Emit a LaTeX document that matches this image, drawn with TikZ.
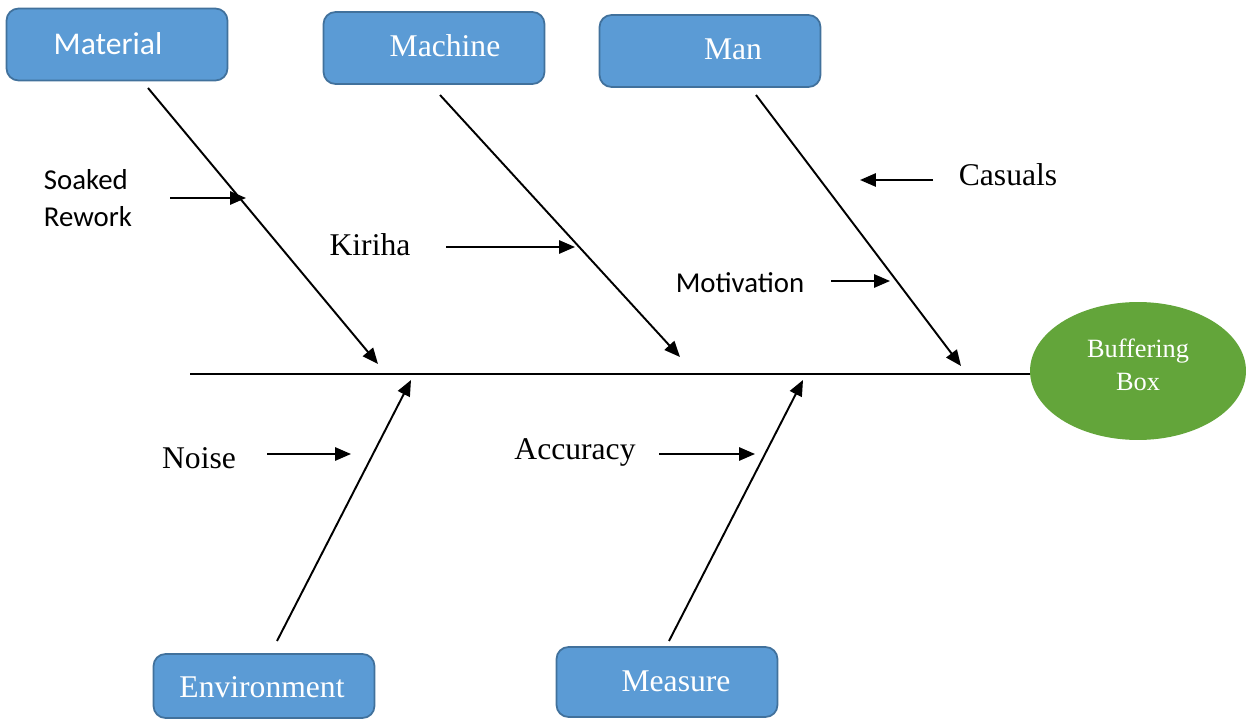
\documentclass[tikz,border=0pt]{standalone}
\usepackage{fontspec}
\setmainfont{Liberation Serif}
\newfontfamily\calibri{Carlito}
\usetikzlibrary{arrows.meta,shapes.geometric,positioning}
\definecolor{boxblue}{HTML}{5B9BD5}
\definecolor{boxedge}{HTML}{41719C}
\definecolor{effectgreen}{HTML}{63A53A}
\tikzset{
>={Triangle[length=9pt,width=7.5pt]},
  causebox/.style={
    rectangle,
    rounded corners=0.24cm,
    fill=boxblue,
    draw=boxedge, line width=1pt,
    minimum width=4.42cm,
    minimum height=1.44cm},
  boxtext/.style={text=white, font=\fontsize{18}{20}\selectfont},
  effect/.style={
    ellipse,
    fill=effectgreen,
    inner sep=0pt,
    minimum width=4.32cm,
    minimum height=2.76cm},
  effecttext/.style={text=white, align=center,
    font=\fontsize{15}{18.7}\selectfont},
  cause/.style={font=\fontsize{18}{20}\selectfont},
  causesans/.style={font=\calibri\fontsize{16.4}{21.5}\selectfont, align=left},
}

\begin{document}
\begin{tikzpicture}[
    x=0.02cm, y=-0.02cm,
    spine/.style={line width=1.5pt},
    bone/.style={line width=1.1pt, ->},
    pointer/.style={line width=1.1pt, ->}
    ]
    \useasboundingbox (0,0) rectangle (1250,719);

    % category boxes
    \node[causebox] (material) at (117,44.5) {};
    \node[boxtext, font=\calibri\fontsize{18}{20}\selectfont] (materialtxt)
         at (108,44) {Material};
    \node[causebox] (machine) at (434,48) {};
    \node[boxtext] (machinetxt) at (445,46) {Machine};
    \node[causebox] (man) at (710,51) {};
    \node[boxtext] (mantxt) at (733,49) {Man};
    \node[causebox, minimum height=1.28cm] (environment) at (264,686) {};
    \node[boxtext] (environmenttxt) at (262,687) {Environment};
    \node[causebox, minimum height=1.40cm] (measure) at (667,682) {};
    \node[boxtext] (measuretxt) at (676,681) {Measure};

    % effect
    \node[effect] (buffer) at (1138,371) {};
    \node[effecttext] (buffertxt) at (1138,365) {Buffering\\Box};

    % spine
    \coordinate (tail) at (190,374);
    \draw[spine] (tail) -- (tail -| buffer.west);

    % bones
    \coordinate (materialtop) at (148,88);
    \coordinate (materialtip) at (378,364);
    \coordinate (machinetop) at (440,95);
    \coordinate (machinetip) at (680,357);
    \coordinate (mantop) at (756,95);
    \coordinate (mantip) at (961,366);
    \coordinate (environmentfoot) at (277,641);
    \coordinate (environmenttip) at (411,380);
    \coordinate (measurefoot) at (669,641);
    \coordinate (measuretip) at (803,380);
    \draw[bone] (materialtop) -- (materialtip);
    \draw[bone] (machinetop) -- (machinetip);
    \draw[bone] (mantop) -- (mantip);
    \draw[bone] (environmentfoot) -- (environmenttip);
    \draw[bone] (measurefoot) -- (measuretip);

    % sub-causes
    \node[causesans] (soaked) at (88,198) {Soaked\\Rework};
    \node[cause] (kiriha) at (370,245) {Kiriha};
    \node[cause] (casuals) at (1008,175) {Casuals};
    \node[causesans] (motivation) at (740,283) {Motivation};
    \node[cause] (noise) at (199,458) {Noise};
    \node[cause] (accuracy) at (575,452) {Accuracy};

    \coordinate (soakedfrom) at (170,198);
    \coordinate (soakedto) at (246,198);
    \coordinate (kirihafrom) at (446,247);
    \coordinate (kirihato) at (575,247);
    \coordinate (casualsfrom) at (933,180);
    \coordinate (casualsto) at (860,180);
    \coordinate (motivationfrom) at (831,281);
    \coordinate (motivationto) at (890,281);
    \coordinate (noisefrom) at (267,454);
    \coordinate (noiseto) at (351,454);
    \coordinate (accuracyfrom) at (659,454);
    \coordinate (accuracyto) at (755,454);
    \draw[pointer] (soakedfrom) -- (soakedto);
    \draw[pointer] (kirihafrom) -- (kirihato);
    \draw[pointer] (casualsfrom) -- (casualsto);
    \draw[pointer] (motivationfrom) -- (motivationto);
    \draw[pointer] (noisefrom) -- (noiseto);
    \draw[pointer] (accuracyfrom) -- (accuracyto);

\end{tikzpicture}
\end{document}
